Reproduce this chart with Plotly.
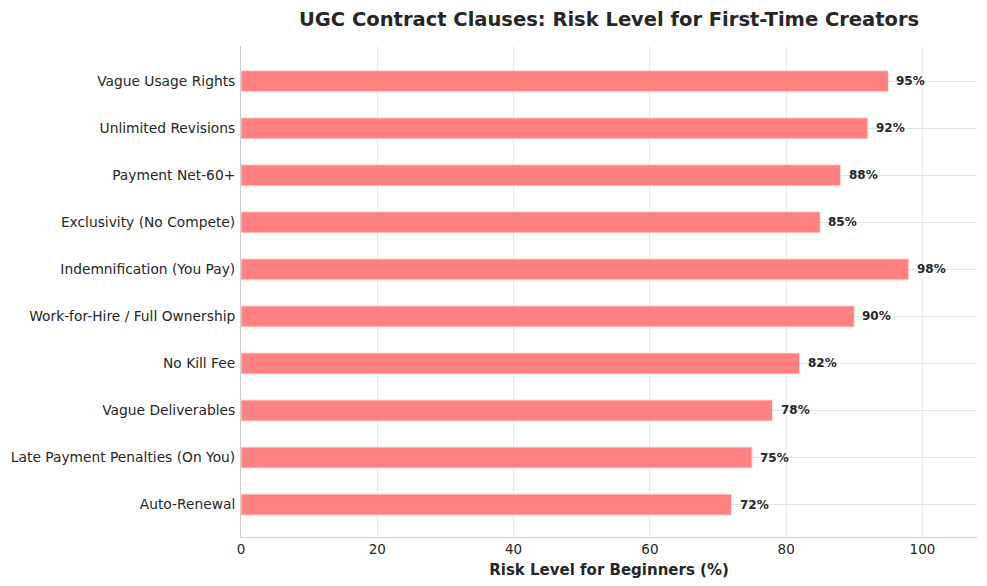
import plotly.graph_objects as go

categories = [
    "Auto-Renewal",
    "Late Payment Penalties (On You)",
    "Vague Deliverables",
    "No Kill Fee",
    "Work-for-Hire / Full Ownership",
    "Indemnification (You Pay)",
    "Exclusivity (No Compete)",
    "Payment Net-60+",
    "Unlimited Revisions",
    "Vague Usage Rights",
]
risk = [72, 75, 78, 82, 90, 98, 85, 88, 92, 95]

fig = go.Figure()
fig.add_trace(go.Bar(
    x=risk, y=categories, orientation="h", width=0.45,
    marker=dict(color="rgba(255,107,107,0.85)", line=dict(color="rgba(255,230,230,1)", width=1)),
    hoverinfo="x+y",
))
for c, v in zip(categories, risk):
    fig.add_annotation(x=v, y=c, text=f"<b>{v}%</b>", showarrow=False,
                       xanchor="left", xshift=6,
                       font=dict(family="DejaVu Sans", size=12, color="#262626"))

fig.update_layout(
    width=979, height=578,
    margin=dict(l=233, r=10, t=38, b=49),
    paper_bgcolor="white", plot_bgcolor="white",
    font=dict(family="DejaVu Sans", size=14, color="#262626"),
    title=dict(text="<b>UGC Contract Clauses: Risk Level for First-Time Creators</b>",
               x=0.614, xanchor="center", y=0.981, yanchor="middle",
               font=dict(size=19.5, color="#262626")),
    showlegend=False,
)
fig.update_xaxes(range=[0, 108], dtick=20, showgrid=True, gridcolor="#EBEBEB",
                 zeroline=False, showline=True, linecolor="#E6C8C8", linewidth=1,
                 ticks="", tickfont=dict(size=13.5), automargin=False,
                 title=dict(text="<b>Risk Level for Beginners (%)</b>", font=dict(size=15), standoff=8))
fig.update_yaxes(range=[-0.69, 9.75], showgrid=True, gridcolor="#E3E3E3",
                 showline=True, linecolor="#CCCCCC", linewidth=1, ticks="",
                 tickfont=dict(size=13.8), ticklabelstandoff=2, automargin=False)
fig.write_html("out.html")
